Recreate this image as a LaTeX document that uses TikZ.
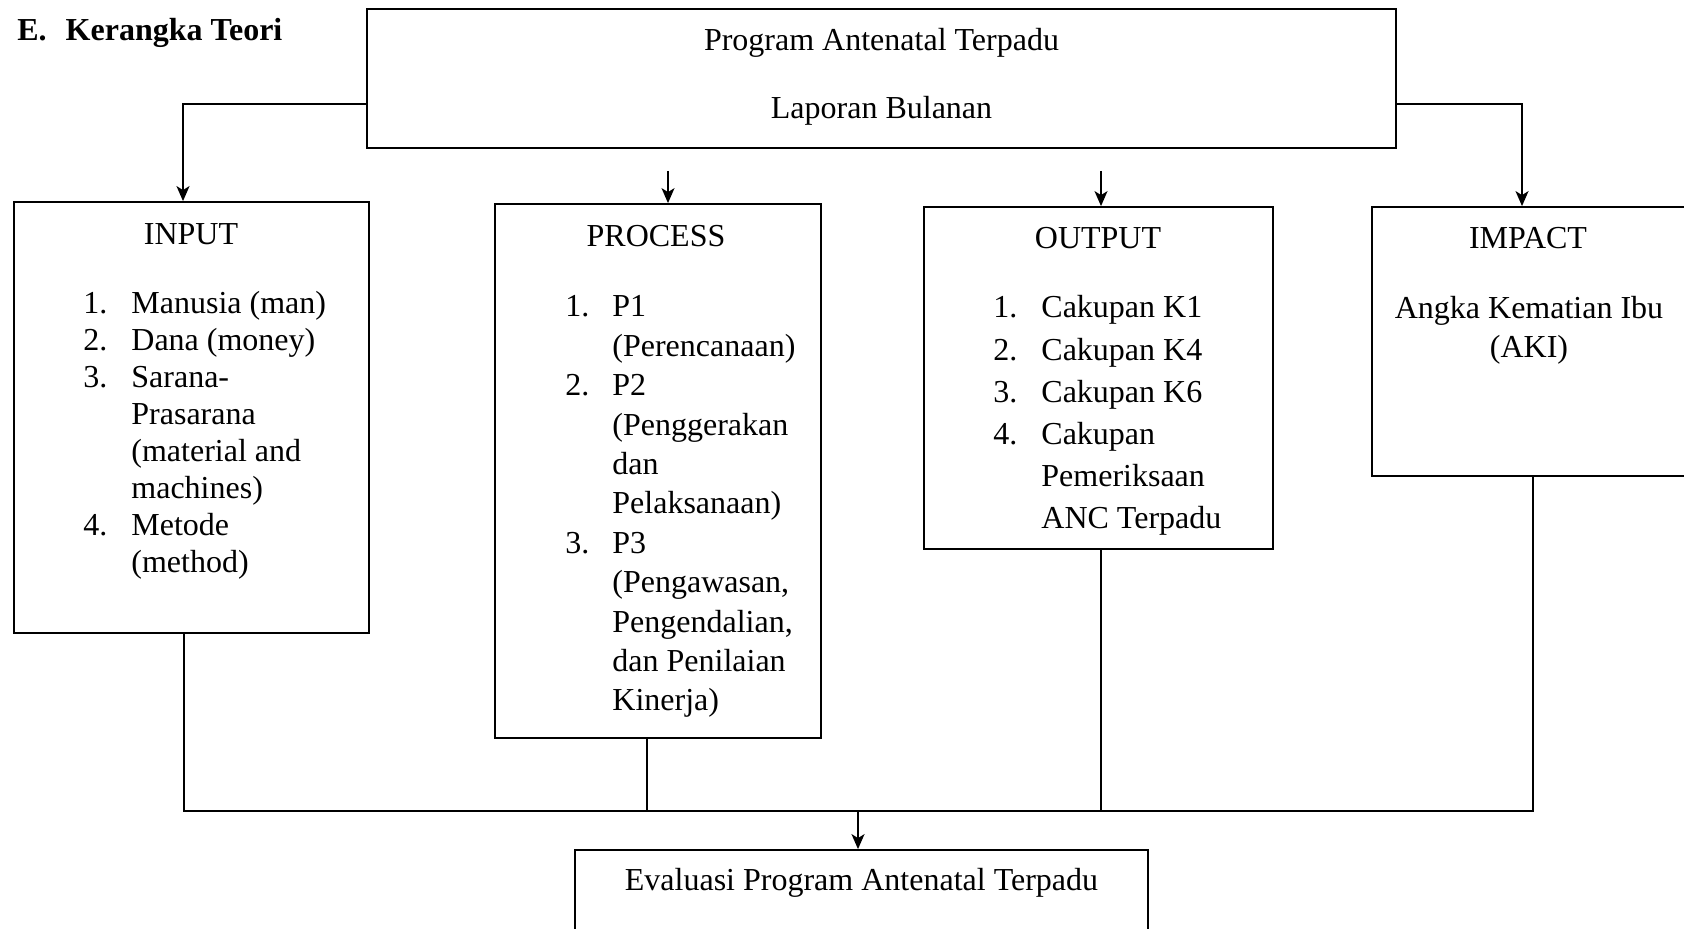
\documentclass[tikz,border=0pt]{standalone}
\usepackage{fontspec}
\setmainfont{Liberation Serif}
\usetikzlibrary{arrows.meta}
\tikzset{
  kotak/.style 2 args={draw, line width=.9pt, inner sep=0pt, minimum width=#1, minimum height=#2},
  teks/.style={inner sep=0pt, font=\fontsize{16}{19}\selectfont},
  judul/.style={teks, anchor=base},
  daftar/.style={teks, anchor=base west, font=\fontsize{16}{#1}\selectfont},
  garis/.style={line width=.9pt},
  panah/.style={garis, -{Stealth[length=7.5pt, width=6.5pt, inset=2pt]}},
}

\begin{document}
\begin{tikzpicture}[x=.5pt,y=-.5pt]
  \useasboundingbox (0,0) rectangle (1684,929);

  \node[teks, anchor=base west, font=\fontsize{16}{19}\selectfont\bfseries] (kerangka) at (17,41)
    {E.\hspace{9.5pt}Kerangka Teori};

  % kotak-kotak
  \node[kotak={514.5pt}{69.5pt}] (atas) at (881.5,78.5) {};
  \node[kotak={177.5pt}{215.5pt}] (input) at (191.5,417.5) {};
  \node[kotak={163pt}{267pt}] (process) at (658,471) {};
  \node[kotak={174.5pt}{171pt}] (output) at (1098.5,378) {};
  \node[kotak={174pt}{134.5pt}] (impact) at (1546,341.5) {};
  \node[kotak={286.5pt}{70pt}] (evaluasi) at (861.5,920) {};

  % teks
  \node[judul] (tprogram) at (881.5,51) {Program Antenatal Terpadu};
  \node[judul] (tlaporan) at (881.5,119) {Laporan Bulanan};
  \node[judul] (tinput) at (191,245) {INPUT};
  \node[judul] (tprocess) at (656,247) {PROCESS};
  \node[judul] (toutput) at (1098,249) {OUTPUT};
  \node[judul] (timpact) at (1528,249) {IMPACT};
  \node[judul] (tevaluasi) at (861.5,890) {Evaluasi Program Antenatal Terpadu};

  \node[daftar=18.5] (isiinput) at (83,314)
    {\begin{tabular}[t]{@{}p{24pt}@{}l@{}}
      1. & Manusia (man)\\
      2. & Dana (money)\\
      3. & Sarana-\\
         & Prasarana\\
         & (material and\\
         & machines)\\
      4. & Metode\\
         & (method)
    \end{tabular}};
  \node[daftar=19.7] (isiprocess) at (565,317)
    {\begin{tabular}[t]{@{}p{23.5pt}@{}l@{}}
      1. & P1\\
         & (Perencanaan)\\
      2. & P2\\
         & (Penggerakan\\
         & dan\\
         & Pelaksanaan)\\
      3. & P3\\
         & (Pengawasan,\\
         & Pengendalian,\\
         & dan Penilaian\\
         & Kinerja)
    \end{tabular}};
  \node[daftar=21.1] (isioutput) at (993,318)
    {\begin{tabular}[t]{@{}p{24pt}@{}l@{}}
      1. & Cakupan K1\\
      2. & Cakupan K4\\
      3. & Cakupan K6\\
      4. & Cakupan\\
         & Pemeriksaan\\
         & ANC Terpadu
    \end{tabular}};
  \node[judul, font=\fontsize{16}{19.5}\selectfont] (isiimpact) at (1529,319)
    {\begin{tabular}[t]{@{}c@{}}
      Angka Kematian Ibu\\
      (AKI)
    \end{tabular}};

  % panah atas
  \coordinate (kiri) at (183,104);
  \coordinate (kanan) at (1522,104);
  \coordinate (panahp) at (668,171);
  \coordinate (panaho) at (1101,171);
  \draw[panah] (atas.west |- kiri) -- (kiri) -- (kiri |- input.north);
  \draw[panah] (atas.east |- kanan) -- (kanan) -- (kanan |- impact.north);
  \draw[panah, line width=.7pt] (panahp) -- (panahp |- process.north);
  \draw[panah, line width=.7pt] (panaho) -- (panaho |- output.north);

  % garis bawah
  \coordinate (b1) at (184,811);
  \coordinate (b2) at (647,811);
  \coordinate (b3) at (1101,811);
  \coordinate (b4) at (1533,811);
  \coordinate (b0) at (858,811);
  \draw[garis] (b1 |- input.south) -- (b1) -- (b4) -- (b4 |- impact.south);
  \draw[garis] (b2 |- process.south) -- (b2);
  \draw[garis] (b3 |- output.south) -- (b3);
  \draw[panah] (b0) -- (b0 |- evaluasi.north);
\end{tikzpicture}
\end{document}
